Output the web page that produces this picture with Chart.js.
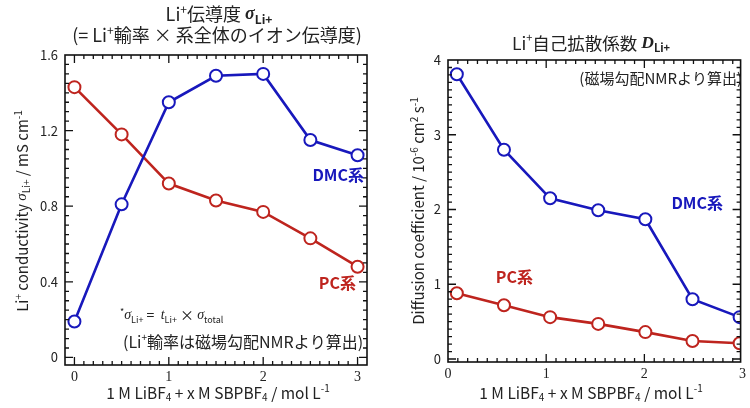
<!DOCTYPE html>
<html>
<head>
<meta charset="utf-8">
<script src="https://cdn.jsdelivr.net/npm/chart.js@4"></script>
<style>
  body { margin: 0; background: #fff; }
  #wrap { position: relative; width: 750px; height: 408px; }
  canvas { position: absolute; top: 0; }
</style>
</head>
<body>
<div id="wrap">
  <canvas id="cond" width="375" height="408" style="left:0"></canvas>
  <canvas id="diff" width="375" height="408" style="left:375px"></canvas>
</div>
<script>
// left panel: Li+ conductivity
const concX = [0, 0.5, 1, 1.5, 2, 2.5, 3];
const dmcCond = [0.19, 0.81, 1.35, 1.49, 1.50, 1.15, 1.07];
const pcCond = [1.43, 1.18, 0.92, 0.83, 0.77, 0.63, 0.48];
const condXTicks = [0, 1, 2, 3];
const condYTicks = [0, 0.4, 0.8, 1.2, 1.6];

// right panel: Li+ self-diffusion coefficient
const diffX = [0.09, 0.57, 1.04, 1.53, 2.01, 2.49, 2.97];
const dmcDiff = [3.81, 2.80, 2.15, 1.99, 1.87, 0.80, 0.56];
const pcDiff = [0.88, 0.72, 0.56, 0.47, 0.36, 0.24, 0.21];
const diffXTicks = [0, 1, 2, 3];
const diffYTicks = [0, 1, 2, 3, 4];

const BLUE = 'rgb(24, 24, 188)';
const RED = 'rgb(190, 36, 30)';
const TXT = '#222';
const SANS = '"Noto Sans CJK JP", "Noto Sans", sans-serif';
const SERIF = '"Liberation Serif", "DejaVu Serif", serif';

// draw a run of text pieces with sub/superscripts
function segFont(s, size) {
  const sz = (s.sub || s.sup) ? Math.round(size * 0.64) : size;
  return (s.i ? 'italic ' : '') + (s.b ? 'bold ' : '') + sz + 'px ' + (s.f || SANS);
}
function drawRich(ctx, segs, x, y, size, color, align) {
  ctx.save();
  ctx.fillStyle = color;
  ctx.textBaseline = 'middle';
  ctx.textAlign = 'left';
  let w = 0;
  segs.forEach(s => { ctx.font = segFont(s, size); w += ctx.measureText(s.t).width; });
  let cx = align === 'left' ? x : (align === 'right' ? x - w : x - w / 2);
  segs.forEach(s => {
    ctx.font = segFont(s, size);
    let dy = s.sub ? size * 0.3 : (s.sup ? -size * 0.28 : 0);
    ctx.fillText(s.t, cx, y + dy);
    cx += ctx.measureText(s.t).width;
  });
  ctx.restore();
}

function minorList(a, b, step) {
  const out = [];
  for (let k = Math.ceil(a / step - 1e-9); k * step <= b + 1e-9; k++) out.push(+(k * step).toFixed(4));
  return out;
}

// frame with inward ticks on all four sides + extra texts
const framePlugin = {
  id: 'frame',
  afterDraw(chart, args, opts) {
    const ctx = chart.ctx;
    const a = chart.chartArea;
    const xs = chart.scales.x, ys = chart.scales.y;
    ctx.save();
    ctx.strokeStyle = '#111';
    ctx.lineWidth = 1.6;
    ctx.strokeRect(a.left, a.top, a.right - a.left, a.bottom - a.top);
    ctx.lineWidth = 1.3;
    ctx.beginPath();
    const tick = (vals, len, axis) => {
      vals.forEach(v => {
        if (axis === 'x') {
          const p = xs.getPixelForValue(v);
          if (p < a.left + 1 || p > a.right - 1) return;
          ctx.moveTo(p, a.bottom); ctx.lineTo(p, a.bottom - len);
          ctx.moveTo(p, a.top); ctx.lineTo(p, a.top + len);
        } else {
          const p = ys.getPixelForValue(v);
          if (p < a.top + 1 || p > a.bottom - 1) return;
          ctx.moveTo(a.left, p); ctx.lineTo(a.left + len, p);
          ctx.moveTo(a.right, p); ctx.lineTo(a.right - len, p);
        }
      });
    };
    tick(opts.xMinor, 4, 'x');
    tick(opts.xMajor, 8, 'x');
    tick(opts.yMinor, 4, 'y');
    tick(opts.yMajor, 8, 'y');
    ctx.stroke();
    ctx.restore();
    (opts.texts || []).forEach(t => {
      if (t.rot) {
        ctx.save();
        ctx.translate(t.x, t.y);
        ctx.rotate(-Math.PI / 2);
        drawRich(ctx, t.segs, 0, 0, t.size, t.color || TXT, 'center');
        ctx.restore();
      } else {
        drawRich(ctx, t.segs, t.x, t.y, t.size, t.color || TXT, t.align || 'center');
      }
    });
  }
};

function series(xv, yv, color) {
  return {
    data: xv.map((x, i) => ({ x: x, y: yv[i] })),
    showLine: true,
    borderColor: color,
    backgroundColor: '#fff',
    borderWidth: 2.6,
    pointRadius: 6,
    pointBorderWidth: 2,
    pointBackgroundColor: '#fff',
    pointBorderColor: color
  };
}

function makeChart(id, cfg) {
  return new Chart(document.getElementById(id), {
    type: 'scatter',
    data: { datasets: cfg.datasets },
    options: {
      responsive: false,
      animation: false,
      layout: { padding: cfg.padding },
      plugins: { legend: { display: false }, tooltip: { enabled: false }, frame: cfg.frame },
      scales: {
        x: {
          type: 'linear', min: cfg.xMin, max: cfg.xMax,
          grid: { display: false, drawTicks: false, tickLength: 0 }, border: { display: false },
          afterBuildTicks: s => { s.ticks = cfg.xTicks.map(v => ({ value: v })); },
          afterFit: s => { s.height = cfg.xHeight; },
          ticks: { padding: 4, color: TXT, font: { family: SERIF, size: 14 }, callback: v => String(v) }
        },
        y: {
          type: 'linear', min: cfg.yMin, max: cfg.yMax,
          grid: { display: false, drawTicks: false, tickLength: 0 }, border: { display: false },
          afterBuildTicks: s => { s.ticks = cfg.yTicks.map(v => ({ value: v })); },
          afterFit: s => { s.width = cfg.yWidth; },
          ticks: { padding: 7, color: TXT, font: { family: SANS, size: 13 }, callback: cfg.yFmt }
        }
      }
    },
    plugins: [framePlugin]
  });
}

const xTitle = [{ t: '1 M LiBF' }, { t: '4', sub: 1 }, { t: ' + x M SBPBF' }, { t: '4', sub: 1 }, { t: ' / mol L' }, { t: '-1', sup: 1 }];

makeChart('cond', {
  datasets: [series(concX, dmcCond, BLUE), series(concX, pcCond, RED)],
  padding: { left: 0, top: 55, right: 2, bottom: 0 },
  xMin: -0.1, xMax: 3.1, yMin: -0.04, yMax: 1.6,
  xTicks: condXTicks, yTicks: condYTicks,
  xHeight: 43, yWidth: 65,
  yFmt: v => v === 0 ? '0' : v.toFixed(1),
  frame: {
    xMajor: condXTicks, xMinor: minorList(-0.1, 3.1, 0.1),
    yMajor: condYTicks, yMinor: minorList(0, 1.6, 0.05),
    texts: [
      { segs: [{ t: 'Li' }, { t: '+', sup: 1 }, { t: '伝導度 ' }, { t: 'σ', i: 1, b: 1, f: SERIF }, { t: 'Li+', sub: 1, b: 1 }], x: 219, y: 14, size: 18 },
      { segs: [{ t: '(= Li' }, { t: '+', sup: 1 }, { t: '輸率 × 系全体のイオン伝導度)' }], x: 217, y: 35, size: 18 },
      { segs: [{ t: 'Li' }, { t: '+', sup: 1 }, { t: ' conductivity ' }, { t: 'σ', i: 1, f: SERIF }, { t: 'Li+', sub: 1 }, { t: ' / mS cm' }, { t: '-1', sup: 1 }], x: 22, y: 211, size: 15, rot: 1 },
      { segs: xTitle, x: 218, y: 393, size: 15.5 },
      { segs: [{ t: 'DMC系', b: 1 }], x: 364, y: 175, size: 16, color: BLUE, align: 'right' },
      { segs: [{ t: 'PC系', b: 1 }], x: 356, y: 283, size: 16, color: RED, align: 'right' },
      { segs: [{ t: '*', sup: 1 }, { t: 'σ', i: 1, f: SERIF }, { t: 'Li+', sub: 1 }, { t: ' =  ' }, { t: 't', i: 1, f: SERIF }, { t: 'Li+', sub: 1 }, { t: ' × ' }, { t: 'σ', i: 1, f: SERIF }, { t: 'total', sub: 1 }], x: 120, y: 315, size: 14, align: 'left' },
      { segs: [{ t: '(Li' }, { t: '+', sup: 1 }, { t: '輸率は磁場勾配NMRより算出)' }], x: 123, y: 342, size: 16, align: 'left' }
    ]
  }
});

makeChart('diff', {
  datasets: [series(diffX, dmcDiff, BLUE), series(diffX, pcDiff, RED)],
  padding: { left: 0, top: 60, right: 9, bottom: 0 },
  xMin: 0, xMax: 2.98, yMin: -0.04, yMax: 4,
  xTicks: diffXTicks, yTicks: diffYTicks,
  xHeight: 46, yWidth: 73,
  yFmt: v => String(v),
  frame: {
    xMajor: diffXTicks, xMinor: minorList(0, 3, 0.1),
    yMajor: diffYTicks, yMinor: minorList(0, 4, 0.1),
    texts: [
      { segs: [{ t: 'Li' }, { t: '+', sup: 1 }, { t: '自己拡散係数 ' }, { t: 'D', i: 1, b: 1, f: SERIF }, { t: 'Li+', sub: 1, b: 1 }], x: 216, y: 43, size: 17.5 },
      { segs: [{ t: 'Diffusion coefficient / 10' }, { t: '-6', sup: 1 }, { t: ' cm' }, { t: '2', sup: 1 }, { t: ' s' }, { t: '-1', sup: 1 }], x: 43, y: 211, size: 15, rot: 1 },
      { segs: xTitle, x: 216, y: 393, size: 15.5 },
      { segs: [{ t: '(磁場勾配NMRより算出)' }], x: 367, y: 78, size: 15, align: 'right' },
      { segs: [{ t: 'DMC系', b: 1 }], x: 348, y: 203, size: 16, color: BLUE, align: 'right' },
      { segs: [{ t: 'PC系', b: 1 }], x: 158, y: 277, size: 16, color: RED, align: 'right' }
    ]
  }
});
</script>
</body>
</html>
